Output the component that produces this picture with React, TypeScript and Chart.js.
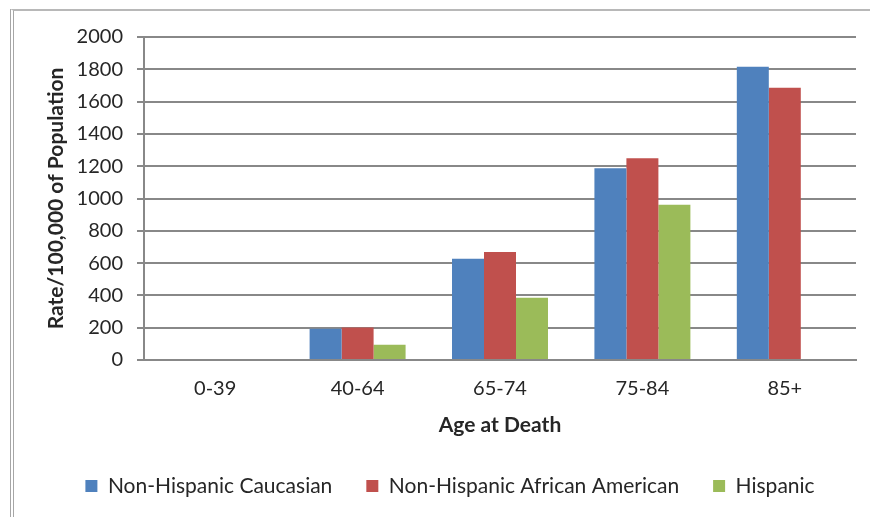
import React, { useEffect, useRef } from "react";
import { Chart, registerables } from "chart.js";

Chart.register(...registerables);

const categories = ["0-39", "40-64", "65-74", "75-84", "85+"];
const caucasian = [0, 194, 627, 1187, 1816];
const africanAmerican = [0, 202, 668, 1249, 1686];
const hispanic = [0, 95, 385, 962, 0];
const seriesNames = ["Non-Hispanic Caucasian", "Non-Hispanic African American", "Hispanic"];
const yTitle = "Rate/100,000 of Population";
const xTitle = "Age at Death";

const FONT = "Lato";
const TEXT = "#262626";

export default function App() {
  const ref = useRef<HTMLCanvasElement | null>(null);

  useEffect(() => {
    document.body.style.margin = "0";
    const canvas = ref.current;
    if (!canvas) return;
    const chart = new Chart(canvas, {
      type: "bar",
      data: {
        labels: categories,
        datasets: [
          { label: seriesNames[0], data: caucasian, backgroundColor: "#4F81BD" },
          { label: seriesNames[1], data: africanAmerican, backgroundColor: "#C0504D" },
          { label: seriesNames[2], data: hispanic, backgroundColor: "#9BBB59" },
        ],
      },
      options: {
        animation: false,
        responsive: false,
        maintainAspectRatio: false,
        layout: { padding: { top: 37, left: 44, right: 14, bottom: 10.5 } },
        datasets: { bar: { categoryPercentage: 0.674, barPercentage: 1 } },
        plugins: {
          tooltip: { enabled: false },
          legend: {
            position: "bottom",
            labels: {
              boxWidth: 12,
              boxHeight: 12,
              padding: 34,
              color: TEXT,
              font: { family: FONT, size: 21 },
            },
          },
        },
        scales: {
          x: {
            grid: { display: false, drawTicks: false },
            border: { display: true, color: "#888888", width: 2 },
            ticks: { color: TEXT, font: { family: FONT, size: 20 }, padding: 17 },
            title: {
              display: true,
              text: xTitle,
              color: TEXT,
              font: { family: FONT, size: 21, weight: "bold" },
              padding: { top: 0, bottom: 4 },
            },
            afterFit: (scale: any) => {
              scale.height = 81.5;
            },
          },
          y: {
            min: 0,
            max: 2000,
            ticks: {
              stepSize: 200,
              color: TEXT,
              font: { family: FONT, size: 20 },
              padding: 14,
              callback: (v: any) => String(v),
            },
            grid: { color: "#888888", lineWidth: 2, drawTicks: true, tickLength: 7 },
            border: { display: true, color: "#888888", width: 2 },
            title: {
              display: true,
              text: yTitle,
              color: TEXT,
              font: { family: FONT, size: 21, weight: "bold" },
              padding: 0,
            },
            afterFit: (scale: any) => {
              scale.width = 100;
            },
          },
        },
      },
    });
    return () => chart.destroy();
  }, []);

  return (
    <div style={{ position: "fixed", left: 0, top: 0, width: 870, height: 517, overflow: "hidden", background: "#fff" }}>
      <div
        style={{
          position: "absolute",
          left: 10,
          top: 9,
          width: 1000,
          height: 1000,
          borderLeft: "4px double #a6a6a6",
          borderTop: "2px solid #b8b8b8",
        }}
      />
      <canvas ref={ref} width={870} height={517} style={{ position: "absolute", left: 0, top: 0 }} />
    </div>
  );
}
